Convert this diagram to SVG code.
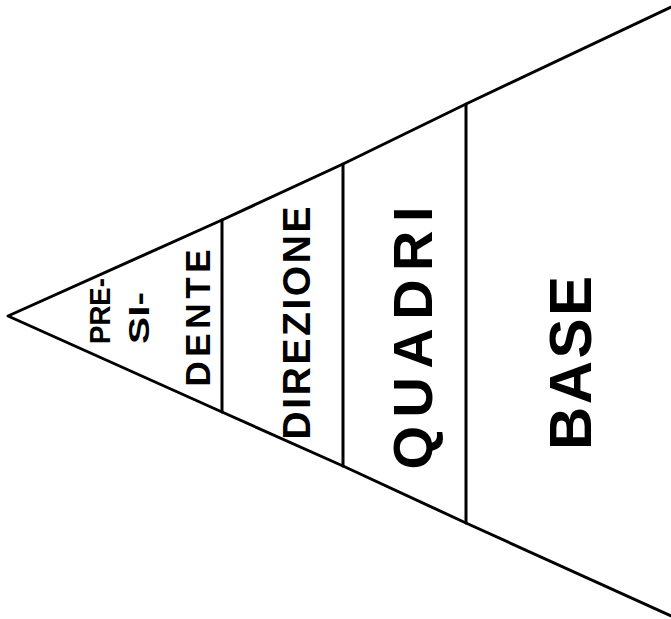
<svg xmlns="http://www.w3.org/2000/svg" width="671" height="619" viewBox="0 0 671 619">
<style>
.ln{fill:none;stroke:#000;stroke-width:3;stroke-linecap:round;stroke-linejoin:round}
.t{font-family:"Liberation Sans","DejaVu Sans",sans-serif;font-weight:bold;fill:#000;text-anchor:middle;dominant-baseline:central}
</style>
<rect width="671" height="619" fill="#fff"/>
<g id="connectors">
<polyline class="ln" points="671,7 466,104 343,164 222,220 8,316 222,412 343,466 466,523 671,616"/>
</g>
<g id="presidente">
<line class="ln" x1="222" y1="220" x2="222" y2="412"/>
<text class="t" font-size="30" textLength="66" lengthAdjust="spacingAndGlyphs" transform="translate(99,311) rotate(-90)">PRE-</text>
<text class="t" font-size="30" textLength="52" lengthAdjust="spacingAndGlyphs" transform="translate(138,318) rotate(-90)">SI-</text>
<text class="t" font-size="35" textLength="137" lengthAdjust="spacing" transform="translate(197,318) rotate(-90)">DENTE</text>
</g>
<g id="direzione">
<line class="ln" x1="343" y1="164" x2="343" y2="466"/>
<text class="t" font-size="39" textLength="233" lengthAdjust="spacing" transform="translate(296,323) rotate(-90)">DIREZIONE</text>
</g>
<g id="quadri">
<line class="ln" x1="466" y1="104" x2="466" y2="523"/>
<text class="t" font-size="56" textLength="263" lengthAdjust="spacing" transform="translate(412,338) rotate(-90)">QUADRI</text>
</g>
<g id="base">
<text class="t" font-size="60" textLength="174" lengthAdjust="spacing" transform="translate(570,363) rotate(-90)">BASE</text>
</g>
</svg>
